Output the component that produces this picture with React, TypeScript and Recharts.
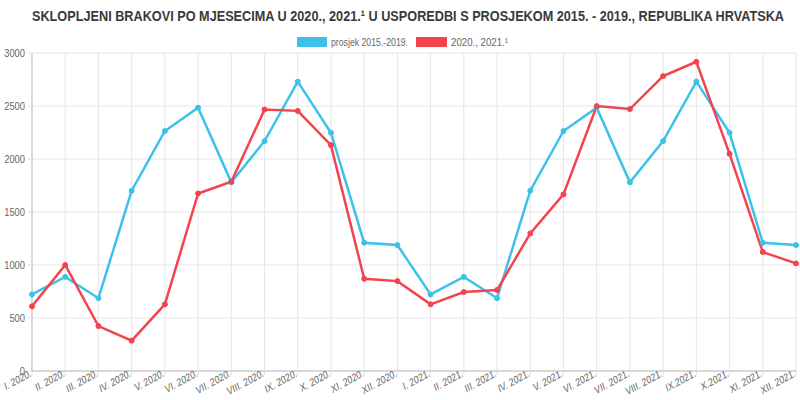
import { CartesianGrid, Line, LineChart, XAxis, YAxis } from "recharts";

const months = [
  "I. 2020.", "II. 2020.", "III. 2020.", "IV. 2020.", "V. 2020.", "VI. 2020.",
  "VII. 2020.", "VIII. 2020.", "IX. 2020.", "X. 2020.", "XI. 2020.", "XII. 2020.",
  "I. 2021.", "II. 2021.", "III. 2021.", "IV. 2021.", "V. 2021.", "VI. 2021.",
  "VII. 2021.", "VIII. 2021.", "IX.2021.", "X.2021.", "XI. 2021.", "XII. 2021.",
];

// prosjek 2015.-2019. (repeated for both years)
const average = [
  722, 888, 687, 1701, 2264, 2484, 1780, 2169, 2730, 2247, 1210, 1188,
  722, 888, 687, 1701, 2264, 2484, 1780, 2169, 2730, 2247, 1210, 1188,
];

// 2020., 2021.
const actual = [
  610, 1000, 424, 286, 629, 1675, 1785, 2467, 2454, 2131, 870, 848,
  629, 745, 764, 1298, 1666, 2499, 2471, 2782, 2917, 2049, 1122, 1015,
];

const yTicks = [0, 500, 1000, 1500, 2000, 2500, 3000];

const title =
  "SKLOPLJENI BRAKOVI PO MJESECIMA U 2020., 2021.¹ U USPOREDBI S PROSJEKOM 2015. - 2019., REPUBLIKA HRVATSKA";

const BLUE = "#3dc1ea";
const RED = "#f4434f";
const FONT = "'Liberation Sans', Arial, sans-serif";

const rows = months.map((m, i) => ({
  month: m,
  average: average[i],
  actual: actual[i],
}));

// the source image is squeezed horizontally, so labels are too
function MonthTick(props: any) {
  const { x, y, payload } = props;
  return (
    <g transform={`translate(${x}, ${y - 1}) scale(0.78, 1) rotate(-23)`}>
      <text x={0} y={0} textAnchor="end" fontSize={11} fill="#666" fontFamily={FONT}>
        {payload.value}
      </text>
    </g>
  );
}

function ValueTick(props: any) {
  const { x, y, payload } = props;
  return (
    <g transform={`translate(${x}, ${y}) scale(0.85, 1)`}>
      <text x={0} y={0} dy={4} textAnchor="end" fontSize={11} fill="#666" fontFamily={FONT}>
        {payload.value}
      </text>
    </g>
  );
}

export default function App() {
  return (
    <div
      style={{
        position: "absolute",
        left: 0,
        top: 0,
        width: 800,
        height: 400,
        background: "#fff",
      }}
    >
      <LineChart
        width={800}
        height={400}
        data={rows}
        margin={{ top: 53, right: 4, bottom: 0, left: 0 }}
      >
        <CartesianGrid stroke="#e6e6e6" />
        <XAxis
          dataKey="month"
          scale="point"
          padding={{ left: 0, right: 0 }}
          interval={0}
          height={29}
          tick={<MonthTick />}
          tickSize={4}
          tickMargin={2}
          axisLine={{ stroke: "#bdbdbd" }}
          tickLine={{ stroke: "#e0e0e0" }}
        />
        <YAxis
          width={32}
          domain={[0, 3000]}
          ticks={yTicks}
          interval={0}
          tick={<ValueTick />}
          tickSize={4}
          tickMargin={3}
          axisLine={{ stroke: "#bdbdbd" }}
          tickLine={{ stroke: "#e0e0e0" }}
        />
        <Line
          type="linear"
          dataKey="average"
          name="prosjek 2015.-2019."
          stroke={BLUE}
          strokeWidth={2.5}
          dot={{ r: 2.5, fill: BLUE, stroke: BLUE, strokeWidth: 1 }}
          isAnimationActive={false}
        />
        <Line
          type="linear"
          dataKey="actual"
          name="2020., 2021.¹"
          stroke={RED}
          strokeWidth={2.5}
          dot={{ r: 2.5, fill: RED, stroke: RED, strokeWidth: 1 }}
          isAnimationActive={false}
        />
      </LineChart>
      <svg
        width={800}
        height={60}
        style={{ position: "absolute", left: 0, top: 0, pointerEvents: "none" }}
      >
        <text
          x={408}
          y={21}
          textAnchor="middle"
          fontSize={15.5}
          fontWeight="bold"
          fill="#3a3a3a"
          fontFamily={FONT}
          textLength={752}
          lengthAdjust="spacingAndGlyphs"
        >
          {title}
        </text>
        <rect x={297} y={37} width={30} height={10} fill={BLUE} />
        <text
          x={331}
          y={46}
          fontSize={11.5}
          fill="#666"
          fontFamily={FONT}
          textLength={77}
          lengthAdjust="spacingAndGlyphs"
        >
          prosjek 2015.-2019.
        </text>
        <rect x={416} y={37} width={31} height={10} fill={RED} />
        <text
          x={451}
          y={46}
          fontSize={11.5}
          fill="#666"
          fontFamily={FONT}
          textLength={57}
          lengthAdjust="spacingAndGlyphs"
        >
          2020., 2021.¹
        </text>
      </svg>
    </div>
  );
}
